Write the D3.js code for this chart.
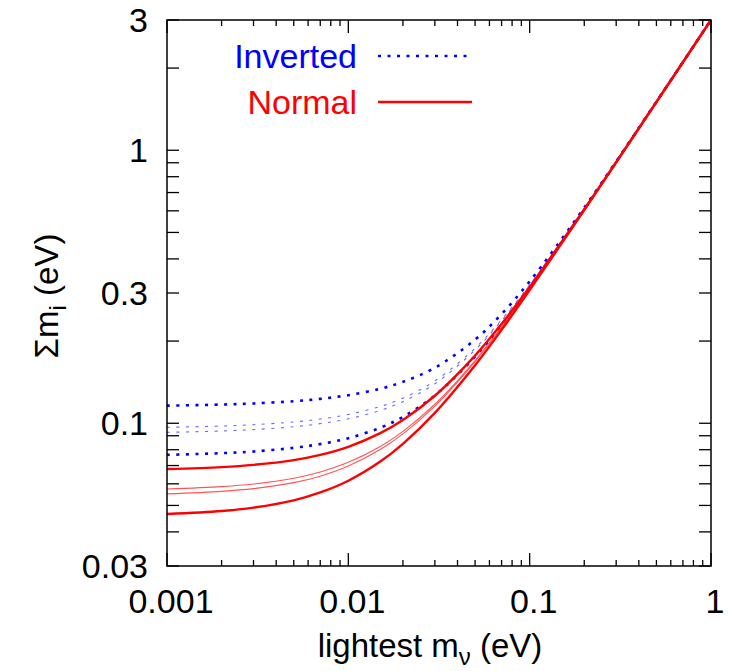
<!DOCTYPE html>
<html>
<head>
<meta charset="utf-8">
<script src="https://cdn.jsdelivr.net/npm/d3@7"></script>
<style>
  body { margin: 0; background: #fff; }
  text { font-family: "Liberation Sans", Arial, sans-serif; }
</style>
</head>
<body>
<div id="contents"></div>
<script>
// lightest neutrino mass (eV)
var mLight = [0.001, 0.002, 0.003, 0.005, 0.007, 0.01, 0.015, 0.02, 0.03, 0.05, 0.07, 0.1, 0.2, 0.5, 1];

// sum of masses, inverted hierarchy (blue dotted)
var invUpper = [0.1160, 0.1171, 0.1182, 0.1204, 0.1228, 0.1267, 0.1338, 0.1418, 0.1597, 0.2024, 0.2512, 0.3307, 0.6162, 1.5066, 3.003];
var invMid1  = [0.0966, 0.0977, 0.0988, 0.1011, 0.1036, 0.1077, 0.1152, 0.1236, 0.1429, 0.1883, 0.2395, 0.3217, 0.6113, 1.5046, 3.002];
var invMid2  = [0.0926, 0.0937, 0.0948, 0.0971, 0.0997, 0.1038, 0.1114, 0.1200, 0.1395, 0.1856, 0.2373, 0.3200, 0.6104, 1.5042, 3.002];
var invLower = [0.0766, 0.0777, 0.0788, 0.0813, 0.0839, 0.0882, 0.0963, 0.1055, 0.1265, 0.1754, 0.2291, 0.3138, 0.6071, 1.5029, 3.001];

// sum of masses, normal hierarchy (red solid)
var norUpper = [0.0680, 0.0691, 0.0704, 0.0733, 0.0766, 0.0820, 0.0920, 0.1028, 0.1261, 0.1769, 0.2310, 0.3156, 0.6082, 1.5034, 3.002];
var norMid1  = [0.0574, 0.0586, 0.0599, 0.0629, 0.0663, 0.0719, 0.0822, 0.0934, 0.1174, 0.1697, 0.2251, 0.3111, 0.6058, 1.5023, 3.001];
var norMid2  = [0.0551, 0.0563, 0.0576, 0.0606, 0.0640, 0.0697, 0.0801, 0.0914, 0.1156, 0.1683, 0.2240, 0.3102, 0.6053, 1.5021, 3.001];
var norLower = [0.0465, 0.0477, 0.0491, 0.0522, 0.0558, 0.0616, 0.0724, 0.0841, 0.1092, 0.1632, 0.2199, 0.3072, 0.6037, 1.5015, 3.001];

var xTickLabels = [0.001, 0.01, 0.1, 1];
var yTickLabels = [0.03, 0.1, 0.3, 1, 3];
var legendNames = ["Inverted", "Normal"];

var width = 736, height = 671;
var pLeft = 167, pRight = 711, pTop = 20, pBottom = 566;

var x = d3.scaleLog().domain([0.001, 1]).range([pLeft, pRight]);
var y = d3.scaleLog().domain([0.03, 3]).range([pBottom, pTop]);

var canvas = d3.select("#contents")
				.append("svg")
				.attr("width", width)
				.attr("height", height);

canvas.append("defs").append("clipPath")
		.attr("id", "plotclip")
	.append("rect")
		.attr("x", pLeft).attr("y", pTop)
		.attr("width", pRight - pLeft).attr("height", pBottom - pTop);

// minor and major tick values
var xTicks = [], yTicks = [];
[0.001, 0.01, 0.1].forEach(function(d){
	for (var k = 1; k < 10; k++) xTicks.push({v: d * k, major: k == 1});
});
xTicks.push({v: 1, major: true});
[0.01, 0.1, 1].forEach(function(d){
	for (var k = 1; k < 10; k++) {
		var v = d * k;
		if (v >= 0.0299 && v <= 3.001) yTicks.push(v);
	}
});

var ticks = canvas.append("g")
				.attr("stroke", "#000")
				.attr("stroke-width", 1.3);

// bottom and top ticks, inward
ticks.selectAll(".xb")
	.data(xTicks)
	.enter().append("line")
		.attr("x1", function(d){ return x(d.v); })
		.attr("x2", function(d){ return x(d.v); })
		.attr("y1", pBottom)
		.attr("y2", function(d){ return pBottom - (d.major ? 13 : 6); });
ticks.selectAll(".xt")
	.data(xTicks)
	.enter().append("line")
		.attr("x1", function(d){ return x(d.v); })
		.attr("x2", function(d){ return x(d.v); })
		.attr("y1", pTop)
		.attr("y2", function(d){ return pTop + (d.major ? 13 : 6); });

// left and right ticks, inward
ticks.selectAll(".yl")
	.data(yTicks)
	.enter().append("line")
		.attr("x1", pLeft)
		.attr("x2", pLeft + 12)
		.attr("y1", function(d){ return y(d); })
		.attr("y2", function(d){ return y(d); });
ticks.selectAll(".yr")
	.data(yTicks)
	.enter().append("line")
		.attr("x1", pRight)
		.attr("x2", pRight - 12)
		.attr("y1", function(d){ return y(d); })
		.attr("y2", function(d){ return y(d); });

// curves
var line = d3.line()
			.x(function(d){ return x(d[0]); })
			.y(function(d){ return y(d[1]); })
			.curve(d3.curveCatmullRom.alpha(0.5));

var curves = [
	{vals: invMid1,  color: "#6b6bff", w: 1.1, dash: "3,6.5"},
	{vals: invMid2,  color: "#6b6bff", w: 1.1, dash: "3,6.5"},
	{vals: invUpper, color: "#0000ff", w: 2.6, dash: "3,6.5"},
	{vals: invLower, color: "#0000ff", w: 2.6, dash: "3,6.5"},
	{vals: norMid1,  color: "#ff5555", w: 1.1, dash: null},
	{vals: norMid2,  color: "#ff5555", w: 1.1, dash: null},
	{vals: norUpper, color: "#ff0000", w: 2.4, dash: null},
	{vals: norLower, color: "#ff0000", w: 2.4, dash: null}
];

var plot = canvas.append("g").attr("clip-path", "url(#plotclip)");
plot.selectAll(".curve")
	.data(curves)
	.enter().append("path")
		.attr("class", "curve")
		.attr("fill", "none")
		.attr("stroke", function(d){ return d.color; })
		.attr("stroke-width", function(d){ return d.w; })
		.attr("stroke-dasharray", function(d){ return d.dash; })
		.attr("d", function(d){
			return line(mLight.map(function(m, i){ return [m, d.vals[i]]; }));
		});

// frame
canvas.append("rect")
	.attr("x", pLeft).attr("y", pTop)
	.attr("width", pRight - pLeft).attr("height", pBottom - pTop)
	.attr("fill", "none")
	.attr("stroke", "#000")
	.attr("stroke-width", 1.5);

// tick labels
canvas.selectAll(".xlab")
	.data(xTickLabels)
	.enter().append("text")
		.attr("x", function(d){ return x(d) + 4; })
		.attr("y", 613)
		.attr("text-anchor", "middle")
		.style("font-size", "34px")
		.text(function(d){ return d; });

canvas.selectAll(".ylab")
	.data(yTickLabels)
	.enter().append("text")
		.attr("x", 148)
		.attr("y", function(d){ return y(d) + 12; })
		.attr("text-anchor", "end")
		.style("font-size", "34px")
		.text(function(d){ return d; });

// axis titles
var xt = canvas.append("text")
	.attr("x", 430)
	.attr("y", 657)
	.attr("text-anchor", "middle")
	.style("font-size", "33px");
xt.append("tspan").text("lightest m");
xt.append("tspan").attr("dy", 8).style("font-size", "24px").text("\u03bd");
xt.append("tspan").attr("dy", -8).text(" (eV)");

var yt = canvas.append("text")
	.attr("transform", "translate(58,296) rotate(-90)")
	.attr("text-anchor", "middle")
	.style("font-size", "33px");
yt.append("tspan").text("\u03a3m");
yt.append("tspan").attr("dy", 8).style("font-size", "24px").text("i");
yt.append("tspan").attr("dy", -8).text(" (eV)");

// legend
var legend = canvas.selectAll(".legend")
	.data(legendNames)
	.enter().append("g")
		.attr("class", "legend")
		.attr("transform", function(d, i){ return "translate(0," + (i * 46) + ")"; });

legend.append("text")
	.attr("x", 357)
	.attr("y", 68)
	.attr("text-anchor", "end")
	.style("font-size", "34px")
	.attr("fill", function(d, i){ return i == 0 ? "#0000ff" : "#ff0000"; })
	.text(function(d){ return d; });

legend.append("line")
	.attr("x1", 378).attr("x2", 472)
	.attr("y1", 56).attr("y2", 56)
	.attr("stroke", function(d, i){ return i == 0 ? "#0000ff" : "#ff0000"; })
	.attr("stroke-width", function(d, i){ return i == 0 ? 2.6 : 2.4; })
	.attr("stroke-dasharray", function(d, i){ return i == 0 ? "3,6.5" : null; });
</script>
</body>
</html>
